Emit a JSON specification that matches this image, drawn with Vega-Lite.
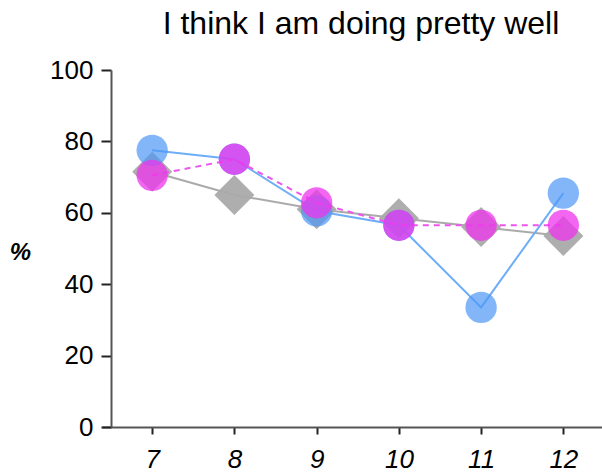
{
  "$schema": "https://vega.github.io/schema/vega-lite/v6.json",
  "autosize": {"type": "none"},
  "width": 500,
  "height": 357,
  "padding": {"left": 102, "top": 70, "right": 0, "bottom": 46},
  "background": "white",
  "title": {
    "text": "I think I am doing pretty well",
    "font": "Liberation Sans",
    "fontSize": 32,
    "fontWeight": "normal",
    "color": "black",
    "anchor": "middle",
    "baseline": "alphabetic",
    "offset": -9,
    "dx": 9
  },
  "config": {
    "view": {"stroke": null},
    "axis": {
      "labelFont": "Liberation Sans",
      "titleFont": "Liberation Sans",
      "labelColor": "black",
      "titleColor": "black",
      "grid": false,
      "domainColor": "#555555",
      "domainWidth": 2,
      "tickColor": "#222222",
      "tickWidth": 2
    }
  },
  "datasets": {
    "gray": [
      {"grade": 7, "pct": 71.5},
      {"grade": 8, "pct": 65},
      {"grade": 9, "pct": 61},
      {"grade": 10, "pct": 58.5},
      {"grade": 11, "pct": 56},
      {"grade": 12, "pct": 53.5}
    ],
    "blue": [
      {"grade": 7, "pct": 77.5},
      {"grade": 8, "pct": 75},
      {"grade": 9, "pct": 60.5},
      {"grade": 10, "pct": 56.5},
      {"grade": 11, "pct": 33.5},
      {"grade": 12, "pct": 65.5}
    ],
    "magenta": [
      {"grade": 7, "pct": 70.5},
      {"grade": 8, "pct": 75},
      {"grade": 9, "pct": 62.8},
      {"grade": 10, "pct": 56.5},
      {"grade": 11, "pct": 56.5},
      {"grade": 12, "pct": 56.5}
    ]
  },
  "encoding": {
    "x": {
      "field": "grade",
      "type": "quantitative",
      "scale": {"domain": [6.39, 12.47], "nice": false, "zero": false},
      "axis": {
        "values": [7, 8, 9, 10, 11, 12],
        "title": null,
        "labelFontSize": 26,
        "labelFontStyle": "italic",
        "tickSize": 7,
        "labelPadding": 12,
        "labelFlush": false
      }
    },
    "y": {
      "field": "pct",
      "type": "quantitative",
      "scale": {"domain": [0, 100], "nice": false},
      "axis": {
        "values": [0, 20, 40, 60, 80, 100],
        "offset": -9,
        "title": "%",
        "titleAngle": 0,
        "titleFontSize": 24,
        "titleFontWeight": "bold",
        "titleFontStyle": "italic",
        "titleAlign": "center",
        "titleBaseline": "middle",
        "titleX": -91,
        "titleY": 182,
        "labelFontSize": 26,
        "tickSize": 10,
        "labelPadding": 8,
        "labelFlush": false
      }
    }
  },
  "layer": [
    {
      "data": {"name": "gray"},
      "mark": {"type": "line", "color": "#aaaaaa", "strokeWidth": 2}
    },
    {
      "data": {"name": "gray"},
      "mark": {"type": "point", "shape": "diamond", "filled": true, "size": 1600, "color": "#aaaaaa", "opacity": 0.95}
    },
    {
      "data": {"name": "blue"},
      "mark": {"type": "line", "color": "#6eaef8", "strokeWidth": 2}
    },
    {
      "data": {"name": "blue"},
      "mark": {"type": "point", "shape": "circle", "filled": true, "size": 980, "color": "#4d97f7", "opacity": 0.7}
    },
    {
      "data": {"name": "magenta"},
      "mark": {"type": "line", "color": "#ee55ee", "strokeWidth": 2, "strokeDash": [6, 5]}
    },
    {
      "data": {"name": "magenta"},
      "mark": {"type": "point", "shape": "circle", "filled": true, "size": 980, "color": "#ee33ee", "opacity": 0.75}
    }
  ]
}
